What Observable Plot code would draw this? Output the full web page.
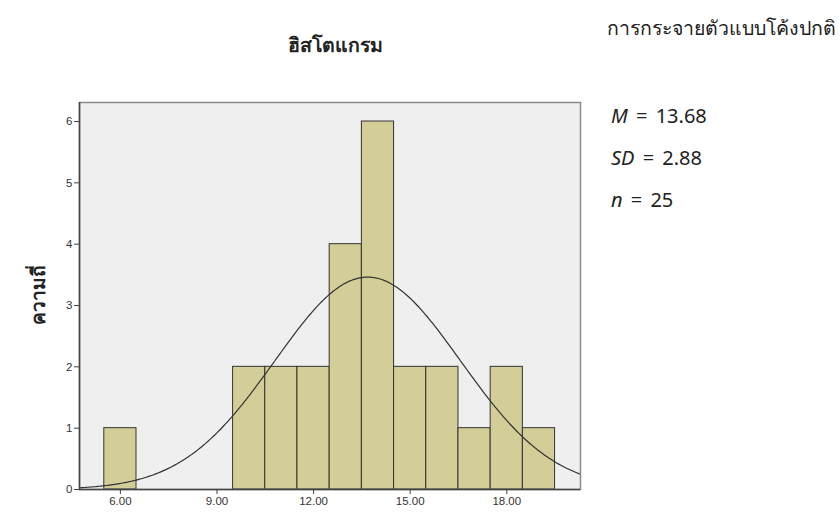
<!DOCTYPE html>
<html>
<head>
<meta charset="utf-8">
<script src="https://cdn.jsdelivr.net/npm/d3@7"></script>
<script src="https://cdn.jsdelivr.net/npm/@observablehq/plot@0.6"></script>
<style>
  html, body { margin: 0; padding: 0; background: #fff; }
  #wrap { position: relative; width: 840px; height: 512px; overflow: hidden; }
  .t { position: absolute; white-space: nowrap; font-family: "Noto Sans", "DejaVu Sans", sans-serif; color: #222; line-height: 1.3; }
</style>
</head>
<body>
<div id="wrap"></div>
<script>
// Data
const binCenters = [6, 10, 11, 12, 13, 14, 15, 16, 17, 18, 19];
const binCounts  = [1, 2, 2, 2, 4, 6, 2, 2, 1, 2, 1];
const binWidth = 1;
const stats = { mean: 13.68, sd: 2.88, n: 25 };
const xTicks = [6, 9, 12, 15, 18];
const yTicks = [0, 1, 2, 3, 4, 5, 6];
const titleText = "ฮิสโตแกรม";
const yLabelText = "ความถี่";
const noteTitle = "การกระจายตัวแบบโค้งปกติ";

const xDomain = [4.73, 20.29];
const yDomain = [0, 6.31];

const bins = binCenters.map((c, i) => ({ x1: c - binWidth / 2, x2: c + binWidth / 2, count: binCounts[i] }));

// Fitted normal curve from the stated M, SD and n (scaled by bin width)
const curve = d3.range(0, 301).map(i => {
  const x = xDomain[0] + (xDomain[1] - xDomain[0]) * i / 300;
  const z = (x - stats.mean) / stats.sd;
  return { x, y: stats.n * binWidth * Math.exp(-0.5 * z * z) / (stats.sd * Math.sqrt(2 * Math.PI)) };
});

const chart = Plot.plot({
  width: 840,
  height: 512,
  marginLeft: 79,
  marginRight: 260,
  marginTop: 102,
  marginBottom: 23,
  style: { fontFamily: "Liberation Sans, Arial, sans-serif", fontSize: "11.5px", color: "#333", background: "#fff" },
  x: { domain: xDomain },
  y: { domain: yDomain },
  marks: [
    Plot.frame({ fill: "#efefef", stroke: null }),
    Plot.rectY(bins, { x1: "x1", x2: "x2", y: "count", fill: "#d3ce97", stroke: "#333", strokeWidth: 1 }),
    Plot.line(curve, { x: "x", y: "y", stroke: "#333", strokeWidth: 1.2, curve: "linear", clip: true }),
    Plot.frame({ stroke: "#8a8a8a", strokeWidth: 1.5 }),
    Plot.ruleX([xDomain[0]], { stroke: "#444", strokeWidth: 1.5 }),
    Plot.ruleY([0], { stroke: "#444", strokeWidth: 1.5 }),
    Plot.axisX(xTicks, { tickSize: 5, tickPadding: 2, tickFormat: d => d.toFixed(2), label: null, stroke: "#444", fill: "#333" }),
    Plot.axisY(yTicks, { tickSize: 5, tickPadding: 2, tickFormat: d => String(d), label: null, stroke: "#444", fill: "#333" })
  ]
});
const wrap = document.getElementById("wrap");
wrap.appendChild(chart);

function addText(html, css) {
  const d = document.createElement("div");
  d.className = "t";
  d.innerHTML = html;
  Object.assign(d.style, css);
  wrap.appendChild(d);
  return d;
}

addText(titleText, { left: "335px", top: "45px", transform: "translate(-50%, -50%)", fontSize: "19.5px", fontWeight: "bold" });
addText(noteTitle, { left: "607px", top: "28px", transform: "translateY(-50%)", fontSize: "19.5px" });
addText(yLabelText, { left: "38px", top: "295px", transform: "translate(-50%, -50%) rotate(-90deg)", fontSize: "19px", fontWeight: "bold" });
const statStyle = { left: "611px", transform: "translateY(-50%)", fontSize: "20px", wordSpacing: "3px" };
addText(`<i>M</i> = ${stats.mean.toFixed(2)}`, { ...statStyle, top: "116px" });
addText(`<i>SD</i> = ${stats.sd.toFixed(2)}`, { ...statStyle, top: "158px" });
addText(`<i>n</i> = ${stats.n}`, { ...statStyle, top: "200px" });
</script>
</body>
</html>
